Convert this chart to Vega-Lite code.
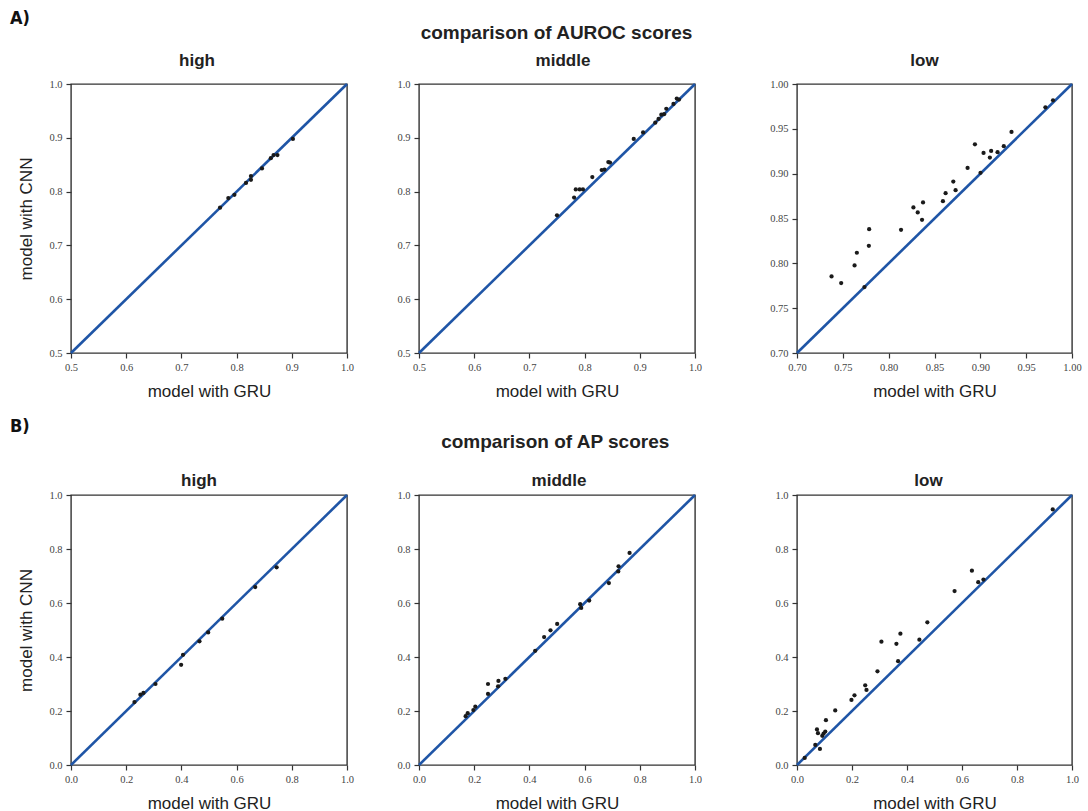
{
  "$schema": "https://vega.github.io/schema/vega-lite/v6.json",
  "background": "white",
  "padding": {"left": 10, "top": 10, "right": 4, "bottom": 2},
  "config": {
    "view": {"stroke": "#333", "strokeWidth": 1.4},
    "axis": {"domain": false, "grid": false, "tickColor": "#333", "tickSize": 5, "tickWidth": 1.2,
      "labelFont": "Liberation Serif", "labelFontSize": 10.5, "labelColor": "#444", "labelPadding": 4,
      "labelFlush": false, "labelOverlap": false,
      "titleFont": "Liberation Sans", "titleFontSize": 17, "titleFontWeight": "normal", "titleColor": "#222"},
    "axisX": {"titlePadding": 11},
    "axisY": {"titlePadding": 13},
    "title": {"font": "Liberation Sans", "fontSize": 17, "fontWeight": "bold", "color": "#222"}
  },
  "datasets": {
    "pts": [
      {"metric":"AUROC","group":"high","gru":0.770,"cnn":0.770},
      {"metric":"AUROC","group":"high","gru":0.785,"cnn":0.788},
      {"metric":"AUROC","group":"high","gru":0.796,"cnn":0.794},
      {"metric":"AUROC","group":"high","gru":0.817,"cnn":0.816},
      {"metric":"AUROC","group":"high","gru":0.826,"cnn":0.822},
      {"metric":"AUROC","group":"high","gru":0.826,"cnn":0.829},
      {"metric":"AUROC","group":"high","gru":0.846,"cnn":0.843},
      {"metric":"AUROC","group":"high","gru":0.862,"cnn":0.862},
      {"metric":"AUROC","group":"high","gru":0.867,"cnn":0.868},
      {"metric":"AUROC","group":"high","gru":0.874,"cnn":0.868},
      {"metric":"AUROC","group":"high","gru":0.902,"cnn":0.898},
      {"metric":"AUROC","group":"middle","gru":0.750,"cnn":0.756},
      {"metric":"AUROC","group":"middle","gru":0.781,"cnn":0.789},
      {"metric":"AUROC","group":"middle","gru":0.784,"cnn":0.804},
      {"metric":"AUROC","group":"middle","gru":0.791,"cnn":0.804},
      {"metric":"AUROC","group":"middle","gru":0.797,"cnn":0.804},
      {"metric":"AUROC","group":"middle","gru":0.814,"cnn":0.827},
      {"metric":"AUROC","group":"middle","gru":0.831,"cnn":0.840},
      {"metric":"AUROC","group":"middle","gru":0.836,"cnn":0.841},
      {"metric":"AUROC","group":"middle","gru":0.843,"cnn":0.855},
      {"metric":"AUROC","group":"middle","gru":0.846,"cnn":0.854},
      {"metric":"AUROC","group":"middle","gru":0.889,"cnn":0.898},
      {"metric":"AUROC","group":"middle","gru":0.906,"cnn":0.910},
      {"metric":"AUROC","group":"middle","gru":0.928,"cnn":0.928},
      {"metric":"AUROC","group":"middle","gru":0.934,"cnn":0.935},
      {"metric":"AUROC","group":"middle","gru":0.939,"cnn":0.943},
      {"metric":"AUROC","group":"middle","gru":0.944,"cnn":0.944},
      {"metric":"AUROC","group":"middle","gru":0.948,"cnn":0.954},
      {"metric":"AUROC","group":"middle","gru":0.961,"cnn":0.963},
      {"metric":"AUROC","group":"middle","gru":0.967,"cnn":0.973},
      {"metric":"AUROC","group":"middle","gru":0.971,"cnn":0.971},
      {"metric":"AUROC","group":"low","gru":0.7377,"cnn":0.7854},
      {"metric":"AUROC","group":"low","gru":0.7482,"cnn":0.7780},
      {"metric":"AUROC","group":"low","gru":0.7736,"cnn":0.7735},
      {"metric":"AUROC","group":"low","gru":0.7628,"cnn":0.7977},
      {"metric":"AUROC","group":"low","gru":0.7653,"cnn":0.8118},
      {"metric":"AUROC","group":"low","gru":0.7784,"cnn":0.8196},
      {"metric":"AUROC","group":"low","gru":0.7787,"cnn":0.8381},
      {"metric":"AUROC","group":"low","gru":0.8135,"cnn":0.8374},
      {"metric":"AUROC","group":"low","gru":0.8270,"cnn":0.8623},
      {"metric":"AUROC","group":"low","gru":0.8317,"cnn":0.8567},
      {"metric":"AUROC","group":"low","gru":0.8364,"cnn":0.8485},
      {"metric":"AUROC","group":"low","gru":0.8375,"cnn":0.8679},
      {"metric":"AUROC","group":"low","gru":0.8592,"cnn":0.8693},
      {"metric":"AUROC","group":"low","gru":0.8621,"cnn":0.8782},
      {"metric":"AUROC","group":"low","gru":0.8705,"cnn":0.8912},
      {"metric":"AUROC","group":"low","gru":0.8730,"cnn":0.8816},
      {"metric":"AUROC","group":"low","gru":0.8861,"cnn":0.9064},
      {"metric":"AUROC","group":"low","gru":0.8941,"cnn":0.9328},
      {"metric":"AUROC","group":"low","gru":0.9002,"cnn":0.9009},
      {"metric":"AUROC","group":"low","gru":0.9035,"cnn":0.9231},
      {"metric":"AUROC","group":"low","gru":0.9118,"cnn":0.9254},
      {"metric":"AUROC","group":"low","gru":0.9104,"cnn":0.9180},
      {"metric":"AUROC","group":"low","gru":0.9188,"cnn":0.9239},
      {"metric":"AUROC","group":"low","gru":0.9256,"cnn":0.9306},
      {"metric":"AUROC","group":"low","gru":0.9340,"cnn":0.9465},
      {"metric":"AUROC","group":"low","gru":0.9710,"cnn":0.9740},
      {"metric":"AUROC","group":"low","gru":0.9793,"cnn":0.9818},
      {"metric":"AP","group":"high","gru":0.230,"cnn":0.233},
      {"metric":"AP","group":"high","gru":0.2515,"cnn":0.2605},
      {"metric":"AP","group":"high","gru":0.2624,"cnn":0.2667},
      {"metric":"AP","group":"high","gru":0.306,"cnn":0.300},
      {"metric":"AP","group":"high","gru":0.399,"cnn":0.371},
      {"metric":"AP","group":"high","gru":0.406,"cnn":0.408},
      {"metric":"AP","group":"high","gru":0.4655,"cnn":0.458},
      {"metric":"AP","group":"high","gru":0.497,"cnn":0.491},
      {"metric":"AP","group":"high","gru":0.548,"cnn":0.542},
      {"metric":"AP","group":"high","gru":0.6675,"cnn":0.659},
      {"metric":"AP","group":"high","gru":0.745,"cnn":0.732},
      {"metric":"AP","group":"middle","gru":0.169,"cnn":0.181},
      {"metric":"AP","group":"middle","gru":0.1765,"cnn":0.192},
      {"metric":"AP","group":"middle","gru":0.197,"cnn":0.2035},
      {"metric":"AP","group":"middle","gru":0.204,"cnn":0.216},
      {"metric":"AP","group":"middle","gru":0.250,"cnn":0.263},
      {"metric":"AP","group":"middle","gru":0.250,"cnn":0.300},
      {"metric":"AP","group":"middle","gru":0.2866,"cnn":0.2916},
      {"metric":"AP","group":"middle","gru":0.2878,"cnn":0.3114},
      {"metric":"AP","group":"middle","gru":0.313,"cnn":0.319},
      {"metric":"AP","group":"middle","gru":0.421,"cnn":0.423},
      {"metric":"AP","group":"middle","gru":0.4534,"cnn":0.474},
      {"metric":"AP","group":"middle","gru":0.4764,"cnn":0.4988},
      {"metric":"AP","group":"middle","gru":0.5006,"cnn":0.5223},
      {"metric":"AP","group":"middle","gru":0.584,"cnn":0.5955},
      {"metric":"AP","group":"middle","gru":0.5877,"cnn":0.5819},
      {"metric":"AP","group":"middle","gru":0.6167,"cnn":0.609},
      {"metric":"AP","group":"middle","gru":0.688,"cnn":0.6737},
      {"metric":"AP","group":"middle","gru":0.722,"cnn":0.717},
      {"metric":"AP","group":"middle","gru":0.723,"cnn":0.7357},
      {"metric":"AP","group":"middle","gru":0.763,"cnn":0.7854},
      {"metric":"AP","group":"low","gru":0.028,"cnn":0.026},
      {"metric":"AP","group":"low","gru":0.0665,"cnn":0.0744},
      {"metric":"AP","group":"low","gru":0.0726,"cnn":0.1315},
      {"metric":"AP","group":"low","gru":0.0762,"cnn":0.1179},
      {"metric":"AP","group":"low","gru":0.0834,"cnn":0.0596},
      {"metric":"AP","group":"low","gru":0.0919,"cnn":0.1079},
      {"metric":"AP","group":"low","gru":0.0967,"cnn":0.1166},
      {"metric":"AP","group":"low","gru":0.1028,"cnn":0.124},
      {"metric":"AP","group":"low","gru":0.1052,"cnn":0.166},
      {"metric":"AP","group":"low","gru":0.139,"cnn":0.202},
      {"metric":"AP","group":"low","gru":0.198,"cnn":0.241},
      {"metric":"AP","group":"low","gru":0.209,"cnn":0.258},
      {"metric":"AP","group":"low","gru":0.248,"cnn":0.295},
      {"metric":"AP","group":"low","gru":0.2527,"cnn":0.278},
      {"metric":"AP","group":"low","gru":0.2926,"cnn":0.347},
      {"metric":"AP","group":"low","gru":0.307,"cnn":0.4566},
      {"metric":"AP","group":"low","gru":0.3615,"cnn":0.449},
      {"metric":"AP","group":"low","gru":0.3676,"cnn":0.3846},
      {"metric":"AP","group":"low","gru":0.376,"cnn":0.4864},
      {"metric":"AP","group":"low","gru":0.445,"cnn":0.464},
      {"metric":"AP","group":"low","gru":0.474,"cnn":0.5285},
      {"metric":"AP","group":"low","gru":0.573,"cnn":0.644},
      {"metric":"AP","group":"low","gru":0.636,"cnn":0.7196},
      {"metric":"AP","group":"low","gru":0.659,"cnn":0.677},
      {"metric":"AP","group":"low","gru":0.678,"cnn":0.687},
      {"metric":"AP","group":"low","gru":0.930,"cnn":0.9467}
    ],
    "diag": [
      {"metric":"AUROC","group":"high","gru":0.5,"cnn":0.5,"gru2":1.0,"cnn2":1.0},
      {"metric":"AUROC","group":"middle","gru":0.5,"cnn":0.5,"gru2":1.0,"cnn2":1.0},
      {"metric":"AUROC","group":"low","gru":0.7,"cnn":0.7,"gru2":1.0,"cnn2":1.0},
      {"metric":"AP","group":"high","gru":0.0,"cnn":0.0,"gru2":1.0,"cnn2":1.0},
      {"metric":"AP","group":"middle","gru":0.0,"cnn":0.0,"gru2":1.0,"cnn2":1.0},
      {"metric":"AP","group":"low","gru":0.0,"cnn":0.0,"gru2":1.0,"cnn2":1.0}
    ]
  },
  "vconcat": [
    {
      "title": {"text": "A)", "anchor": "start", "frame": "group", "font": "DejaVu Sans Condensed", "fontSize": 18, "fontWeight": "bold", "color": "#111", "offset": -4, "dx": -61},
      "vconcat": [{
        "title": {"text": "comparison of AUROC scores", "anchor": "middle", "fontSize": 19, "offset": 8, "dx": 7},
        "spacing": 23,
        "hconcat": [
          {
            "title": {"text": "high", "frame": "group", "offset": 9, "dx": -12},
            "width": 276, "height": 269,
            "encoding": {
              "x": {"field": "gru", "type": "quantitative", "scale": {"domain": [0.5, 1.0], "nice": false, "zero": false}, "axis": {"title": "model with GRU", "values": [0.5,0.6,0.7,0.8,0.9,1.0], "format": ".1f"}},
              "y": {"field": "cnn", "type": "quantitative", "scale": {"domain": [0.5, 1.0], "nice": false, "zero": false}, "axis": {"title": "model with CNN", "values": [0.5,0.6,0.7,0.8,0.9,1.0], "format": ".1f"}}
            },
            "layer": [
              {"data": {"name": "diag"}, "transform": [{"filter": "datum.metric === 'AUROC' && datum.group === 'high'"}], "mark": {"type": "rule", "color": "#1f55a6", "strokeWidth": 2.6}, "encoding": {"x2": {"field": "gru2"}, "y2": {"field": "cnn2"}}},
              {"data": {"name": "pts"}, "transform": [{"filter": "datum.metric === 'AUROC' && datum.group === 'high'"}], "mark": {"type": "circle", "color": "#1a1a1a", "size": 18, "opacity": 1}}
            ]
          },
          {
            "title": {"text": "middle", "frame": "group", "offset": 9, "dx": 6},
            "width": 276, "height": 269,
            "encoding": {
              "x": {"field": "gru", "type": "quantitative", "scale": {"domain": [0.5, 1.0], "nice": false, "zero": false}, "axis": {"title": "model with GRU", "values": [0.5,0.6,0.7,0.8,0.9,1.0], "format": ".1f"}},
              "y": {"field": "cnn", "type": "quantitative", "scale": {"domain": [0.5, 1.0], "nice": false, "zero": false}, "axis": {"title": null, "values": [0.5,0.6,0.7,0.8,0.9,1.0], "format": ".1f", "minExtent": 40}}
            },
            "layer": [
              {"data": {"name": "diag"}, "transform": [{"filter": "datum.metric === 'AUROC' && datum.group === 'middle'"}], "mark": {"type": "rule", "color": "#1f55a6", "strokeWidth": 2.6}, "encoding": {"x2": {"field": "gru2"}, "y2": {"field": "cnn2"}}},
              {"data": {"name": "pts"}, "transform": [{"filter": "datum.metric === 'AUROC' && datum.group === 'middle'"}], "mark": {"type": "circle", "color": "#1a1a1a", "size": 18, "opacity": 1}}
            ]
          },
          {
            "title": {"text": "low", "frame": "group", "offset": 9, "dx": -10},
            "width": 275, "height": 269,
            "encoding": {
              "x": {"field": "gru", "type": "quantitative", "scale": {"domain": [0.7, 1.0], "nice": false, "zero": false}, "axis": {"title": "model with GRU", "values": [0.7,0.75,0.8,0.85,0.9,0.95,1.0], "format": ".2f"}},
              "y": {"field": "cnn", "type": "quantitative", "scale": {"domain": [0.7, 1.0], "nice": false, "zero": false}, "axis": {"title": null, "values": [0.7,0.75,0.8,0.85,0.9,0.95,1.0], "format": ".2f", "minExtent": 70}}
            },
            "layer": [
              {"data": {"name": "diag"}, "transform": [{"filter": "datum.metric === 'AUROC' && datum.group === 'low'"}], "mark": {"type": "rule", "color": "#1f55a6", "strokeWidth": 2.6}, "encoding": {"x2": {"field": "gru2"}, "y2": {"field": "cnn2"}}},
              {"data": {"name": "pts"}, "transform": [{"filter": "datum.metric === 'AUROC' && datum.group === 'low'"}], "mark": {"type": "circle", "color": "#1a1a1a", "size": 18, "opacity": 1}}
            ]
          }
        ]
      }]
    },
    {
      "title": {"text": "B)", "anchor": "start", "frame": "group", "font": "DejaVu Sans Condensed", "fontSize": 18, "fontWeight": "bold", "color": "#111", "offset": -3, "dx": -61},
      "vconcat": [{
        "title": {"text": "comparison of AP scores", "anchor": "middle", "fontSize": 19, "offset": 19, "dx": 7},
        "spacing": 23,
        "hconcat": [
          {
            "title": {"text": "high", "frame": "group", "offset": 0, "dx": -10},
            "width": 276, "height": 270,
            "encoding": {
              "x": {"field": "gru", "type": "quantitative", "scale": {"domain": [0, 1.0], "nice": false, "zero": false}, "axis": {"title": "model with GRU", "values": [0,0.2,0.4,0.6,0.8,1.0], "format": ".1f"}},
              "y": {"field": "cnn", "type": "quantitative", "scale": {"domain": [0, 1.0], "nice": false, "zero": false}, "axis": {"title": "model with CNN", "values": [0,0.2,0.4,0.6,0.8,1.0], "format": ".1f"}}
            },
            "layer": [
              {"data": {"name": "diag"}, "transform": [{"filter": "datum.metric === 'AP' && datum.group === 'high'"}], "mark": {"type": "rule", "color": "#1f55a6", "strokeWidth": 2.6}, "encoding": {"x2": {"field": "gru2"}, "y2": {"field": "cnn2"}}},
              {"data": {"name": "pts"}, "transform": [{"filter": "datum.metric === 'AP' && datum.group === 'high'"}], "mark": {"type": "circle", "color": "#1a1a1a", "size": 18, "opacity": 1}}
            ]
          },
          {
            "title": {"text": "middle", "frame": "group", "offset": 0, "dx": 2},
            "width": 276, "height": 270,
            "encoding": {
              "x": {"field": "gru", "type": "quantitative", "scale": {"domain": [0, 1.0], "nice": false, "zero": false}, "axis": {"title": "model with GRU", "values": [0,0.2,0.4,0.6,0.8,1.0], "format": ".1f"}},
              "y": {"field": "cnn", "type": "quantitative", "scale": {"domain": [0, 1.0], "nice": false, "zero": false}, "axis": {"title": null, "values": [0,0.2,0.4,0.6,0.8,1.0], "format": ".1f", "minExtent": 40}}
            },
            "layer": [
              {"data": {"name": "diag"}, "transform": [{"filter": "datum.metric === 'AP' && datum.group === 'middle'"}], "mark": {"type": "rule", "color": "#1f55a6", "strokeWidth": 2.6}, "encoding": {"x2": {"field": "gru2"}, "y2": {"field": "cnn2"}}},
              {"data": {"name": "pts"}, "transform": [{"filter": "datum.metric === 'AP' && datum.group === 'middle'"}], "mark": {"type": "circle", "color": "#1a1a1a", "size": 18, "opacity": 1}}
            ]
          },
          {
            "title": {"text": "low", "frame": "group", "offset": 0, "dx": -6},
            "width": 275, "height": 270,
            "encoding": {
              "x": {"field": "gru", "type": "quantitative", "scale": {"domain": [0, 1.0], "nice": false, "zero": false}, "axis": {"title": "model with GRU", "values": [0,0.2,0.4,0.6,0.8,1.0], "format": ".1f"}},
              "y": {"field": "cnn", "type": "quantitative", "scale": {"domain": [0, 1.0], "nice": false, "zero": false}, "axis": {"title": null, "values": [0,0.2,0.4,0.6,0.8,1.0], "format": ".1f", "minExtent": 70}}
            },
            "layer": [
              {"data": {"name": "diag"}, "transform": [{"filter": "datum.metric === 'AP' && datum.group === 'low'"}], "mark": {"type": "rule", "color": "#1f55a6", "strokeWidth": 2.6}, "encoding": {"x2": {"field": "gru2"}, "y2": {"field": "cnn2"}}},
              {"data": {"name": "pts"}, "transform": [{"filter": "datum.metric === 'AP' && datum.group === 'low'"}], "mark": {"type": "circle", "color": "#1a1a1a", "size": 18, "opacity": 1}}
            ]
          }
        ]
      }]
    }
  ],
  "spacing": 17
}
